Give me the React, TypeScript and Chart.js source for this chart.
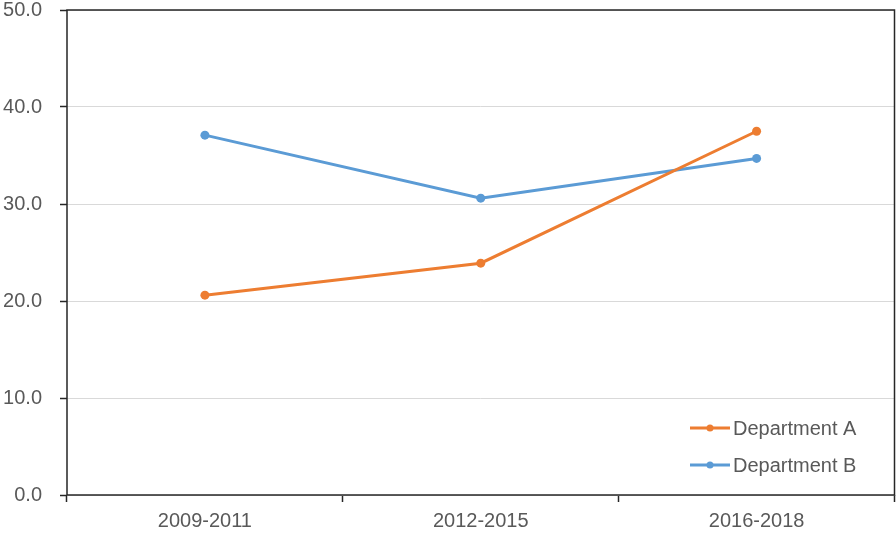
import React, { useEffect, useRef } from "react";
import { Chart, registerables } from "chart.js";

Chart.register(...registerables);

const categories = ["2009-2011", "2012-2015", "2016-2018"];
const seriesNames = ["Department A", "Department B"];
const departmentA = [20.6, 23.9, 37.5];
const departmentB = [37.1, 30.6, 34.7];
const seriesColors = ["#ED7D31", "#5B9BD5"];

const FONT = "'Liberation Sans', Arial, sans-serif";
const TEXT = "#595959";
const SHIFT = 20;

const frameAndLegend = {
  id: "frameAndLegend",
  afterDatasetsDraw(chart: any) {
    const { ctx, chartArea } = chart;
    ctx.save();
    ctx.strokeStyle = "#262626";
    ctx.lineWidth = 1.5;
    ctx.strokeRect(chartArea.left, chartArea.top, chartArea.right - chartArea.left, chartArea.bottom - chartArea.top);
    const rows = chart.data.datasets;
    const x0 = 690;
    const lineW = 40;
    rows.forEach((ds: any, i: number) => {
      const y = 428 + SHIFT + i * 37;
      ctx.strokeStyle = ds.borderColor;
      ctx.lineWidth = 3;
      ctx.beginPath();
      ctx.moveTo(x0, y);
      ctx.lineTo(x0 + lineW, y);
      ctx.stroke();
      ctx.fillStyle = ds.borderColor;
      ctx.beginPath();
      ctx.arc(x0 + lineW / 2, y, 3.5, 0, Math.PI * 2);
      ctx.fill();
      ctx.fillStyle = TEXT;
      ctx.font = `20px ${FONT}`;
      ctx.textAlign = "left";
      ctx.textBaseline = "middle";
      ctx.fillText(ds.label, x0 + lineW + 3, y + 1);
    });
    ctx.restore();
  },
};

export default function App() {
  const ref = useRef<HTMLCanvasElement>(null);
  useEffect(() => {
    const chart = new Chart(ref.current!, {
      type: "line",
      data: {
        labels: categories,
        datasets: [departmentA, departmentB].map((d, i) => ({
          label: seriesNames[i],
          data: d,
          borderColor: seriesColors[i],
          backgroundColor: seriesColors[i],
          borderWidth: 3,
          pointRadius: 4.5,
          pointBorderWidth: 0,
          tension: 0,
        })),
      },
      options: {
        responsive: false,
        animation: false,
        layout: { padding: { top: 0, right: 0, left: 0, bottom: 0 } },
        plugins: { legend: { display: false }, tooltip: { enabled: false } },
        scales: {
          x: {
            offset: true,
            grid: {
              offset: true,
              drawOnChartArea: false,
              drawTicks: true,
              tickLength: 7,
              tickColor: "#262626",
              tickWidth: 1.5,
            },
            border: { display: false },
            ticks: { color: TEXT, font: { family: FONT, size: 20 }, padding: 7, maxRotation: 0 },
            afterFit: (s: any) => { s.height = 38; },
          },
          y: {
            min: 0,
            max: 50,
            grid: {
              color: "#d9d9d9",
              lineWidth: 1,
              drawTicks: true,
              tickLength: 7,
              tickColor: "#262626",
              tickWidth: 1.5,
            },
            border: { display: false },
            ticks: {
              stepSize: 10,
              color: TEXT,
              font: { family: FONT, size: 20 },
              padding: 18,
              callback: (v: any) => Number(v).toFixed(1),
            },
            afterFit: (s: any) => { s.width = 67; },
          },
        },
      },
      plugins: [frameAndLegend],
    });
    return () => chart.destroy();
  }, []);
  return (
    <div style={{ position: "fixed", left: 0, top: 0, width: 896, height: 533, background: "#fff", overflow: "hidden" }}>
      <canvas ref={ref} width={899} height={533 + SHIFT} style={{ display: "block", position: "absolute", left: 0, top: -SHIFT }} />
    </div>
  );
}
